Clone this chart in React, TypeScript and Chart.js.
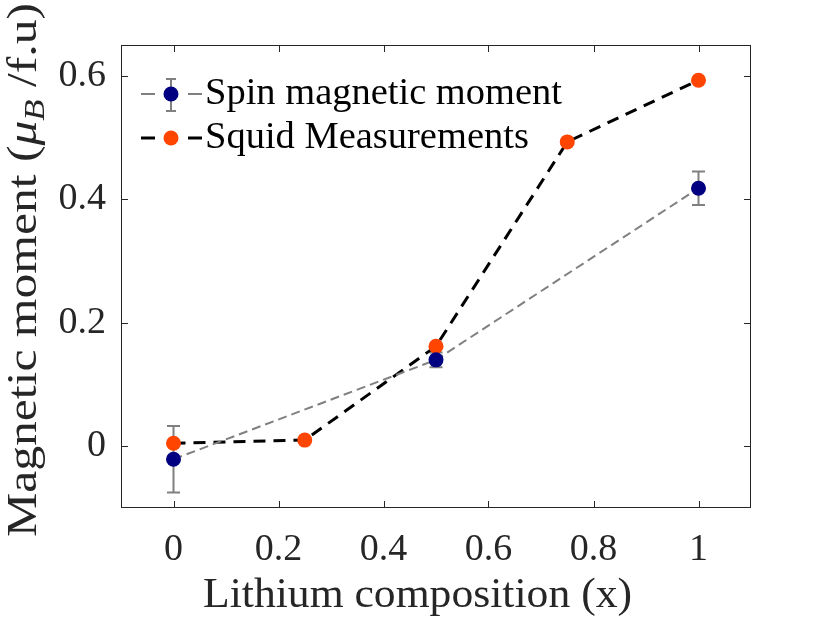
import React, { useEffect, useRef } from "react";
import { Chart, registerables } from "chart.js";

Chart.register(...registerables);

const spinX = [0, 0.5, 1];
const spinY = [-0.021, 0.14, 0.418];
const spinErr = [0.054, 0.012, 0.027];

const squidX = [0, 0.25, 0.5, 0.75, 1];
const squidY = [0.005, 0.01, 0.162, 0.493, 0.593];

const xTicks = [0, 0.2, 0.4, 0.6, 0.8, 1];
const xTickLabels = ["0", "0.2", "0.4", "0.6", "0.8", "1"];
const yTicks = [0, 0.2, 0.4, 0.6];
const yTickLabels = ["0", "0.2", "0.4", "0.6"];

const legendLabels = ["Spin magnetic moment", "Squid Measurements"];
const xTitle = "Lithium composition (x)";

const FONT = "'Liberation Serif', 'Times New Roman', serif";
const AXIS_COLOR = "#262626";
const NAVY = "#000080";
const ORANGE = "#ff4500";
const GRAY = "#808080";

function drawStretched(ctx: any, text: string, x: number, y: number, targetW: number) {
  const w = ctx.measureText(text).width;
  const s = targetW / w;
  ctx.save();
  ctx.translate(x, y);
  ctx.scale(s, 1);
  ctx.textAlign = "left";
  ctx.fillText(text, 0, 0);
  ctx.restore();
}

const overlayPlugin = {
  id: "overlay",
  beforeDatasetsDraw(chart: any) {
    const ctx = chart.ctx;
    const xs = chart.scales.x;
    const ys = chart.scales.y;
    ctx.save();
    ctx.strokeStyle = GRAY;
    ctx.lineWidth = 2;
    spinX.forEach((xv, i) => {
      const px = xs.getPixelForValue(xv);
      const top = ys.getPixelForValue(spinY[i] + spinErr[i]);
      const bot = ys.getPixelForValue(spinY[i] - spinErr[i]);
      ctx.beginPath();
      ctx.moveTo(px, top);
      ctx.lineTo(px, bot);
      ctx.moveTo(px - 6.5, top);
      ctx.lineTo(px + 6.5, top);
      ctx.moveTo(px - 6.5, bot);
      ctx.lineTo(px + 6.5, bot);
      ctx.stroke();
    });
    ctx.restore();
  },
  afterDraw(chart: any) {
    const ctx = chart.ctx;
    const a = chart.chartArea;
    const xs = chart.scales.x;
    const ys = chart.scales.y;
    ctx.save();
    // frame
    ctx.strokeStyle = AXIS_COLOR;
    ctx.lineWidth = 1;
    ctx.strokeRect(a.left + 0.5, a.top + 0.5, a.right - a.left - 1, a.bottom - a.top - 1);
    const tl = 7;
    ctx.beginPath();
    xTicks.forEach((v) => {
      const px = Math.round(xs.getPixelForValue(v)) + 0.5;
      ctx.moveTo(px, a.bottom);
      ctx.lineTo(px, a.bottom - tl);
      ctx.moveTo(px, a.top);
      ctx.lineTo(px, a.top + tl);
    });
    yTicks.forEach((v) => {
      const py = Math.round(ys.getPixelForValue(v)) + 0.5;
      ctx.moveTo(a.left, py);
      ctx.lineTo(a.left + tl, py);
      ctx.moveTo(a.right, py);
      ctx.lineTo(a.right - tl, py);
    });
    ctx.stroke();

    // x title
    ctx.fillStyle = AXIS_COLOR;
    ctx.font = `43px ${FONT}`;
    ctx.textBaseline = "alphabetic";
    drawStretched(ctx, xTitle, 203, 607, 429);

    // y title (rotated) with mu_B
    ctx.save();
    ctx.translate(36, 537);
    ctx.rotate(-Math.PI / 2);
    const segs = [
      { t: "Magnetic moment (", f: `43px ${FONT}`, dy: 0 },
      { t: "\u03bc", f: `italic 43px ${FONT}`, dy: 0 },
      { t: "B", f: `italic 30px ${FONT}`, dy: 8 },
      { t: " /f.u)", f: `43px ${FONT}`, dy: 0 },
    ];
    let total = 0;
    segs.forEach((s) => {
      ctx.font = s.f;
      total += ctx.measureText(s.t).width;
    });
    const sc = 534 / total;
    ctx.scale(sc, 1);
    let cx = 0;
    ctx.textAlign = "left";
    segs.forEach((s) => {
      ctx.font = s.f;
      ctx.fillText(s.t, cx, s.dy);
      cx += ctx.measureText(s.t).width;
    });
    ctx.restore();

    // legend
    const rows = [
      { y: 94, color: GRAY, lw: 2, marker: NAVY, err: true },
      { y: 138, color: "#000000", lw: 3, marker: ORANGE, err: false },
    ];
    ctx.font = `37px ${FONT}`;
    const legScale = 357 / ctx.measureText(legendLabels[0]).width;
    rows.forEach((r, i) => {
      ctx.save();
      ctx.strokeStyle = r.color;
      ctx.lineWidth = r.lw;
      ctx.setLineDash([14, 33]);
      ctx.beginPath();
      ctx.moveTo(141, r.y);
      ctx.lineTo(202, r.y);
      ctx.stroke();
      ctx.setLineDash([]);
      if (r.err) {
        ctx.strokeStyle = GRAY;
        ctx.lineWidth = 2;
        ctx.beginPath();
        ctx.moveTo(171, r.y - 15);
        ctx.lineTo(171, r.y + 17);
        ctx.moveTo(166, r.y - 15);
        ctx.lineTo(176, r.y - 15);
        ctx.moveTo(166, r.y + 17);
        ctx.lineTo(176, r.y + 17);
        ctx.stroke();
      }
      ctx.fillStyle = r.marker;
      ctx.beginPath();
      ctx.arc(171, r.y, 7.5, 0, Math.PI * 2);
      ctx.fill();
      ctx.restore();
      ctx.fillStyle = "#000000";
      ctx.font = `37px ${FONT}`;
      ctx.textBaseline = "alphabetic";
      const w = ctx.measureText(legendLabels[i]).width;
      drawStretched(ctx, legendLabels[i], 205, r.y + 10, w * legScale);
    });
    ctx.restore();
  },
};

export default function App() {
  const ref = useRef<HTMLCanvasElement>(null);
  useEffect(() => {
    document.body.style.margin = "0";
    const canvas = ref.current!;
    const chart = new Chart(canvas, {
      type: "line",
      data: {
        datasets: [
          {
            label: legendLabels[0],
            data: spinX.map((x, i) => ({ x, y: spinY[i] })),
            borderColor: GRAY,
            borderWidth: 2,
            borderDash: [9, 5],
            backgroundColor: NAVY,
            pointBackgroundColor: NAVY,
            pointBorderWidth: 0,
            pointRadius: 7.5,
            order: 0,
          },
          {
            label: legendLabels[1],
            data: squidX.map((x, i) => ({ x, y: squidY[i] })),
            borderColor: "#000000",
            borderWidth: 3,
            borderDash: [12, 8],
            backgroundColor: ORANGE,
            pointBackgroundColor: ORANGE,
            pointBorderWidth: 0,
            pointRadius: 7.5,
            order: 1,
          },
        ],
      },
      options: {
        responsive: false,
        animation: false,
        layout: { padding: { left: 0, right: 79, top: 45, bottom: 0 } },
        plugins: { legend: { display: false }, tooltip: { enabled: false } },
        scales: {
          x: {
            type: "linear",
            min: -0.1,
            max: 1.1,
            grid: { display: false, drawTicks: false },
            border: { display: false },
            afterFit: (s: any) => {
              s.height = 115;
            },
            afterBuildTicks: (s: any) => {
              s.ticks = xTicks.map((v) => ({ value: v }));
            },
            ticks: {
              padding: 19,
              color: AXIS_COLOR,
              font: { family: FONT, size: 38 },
              maxRotation: 0,
              autoSkip: false,
              callback: (v: any) => {
                const i = xTicks.findIndex((t) => Math.abs(t - v) < 1e-9);
                return i >= 0 ? xTickLabels[i] : "";
              },
            },
          },
          y: {
            type: "linear",
            min: -0.1,
            max: 0.65,
            grid: { display: false, drawTicks: false },
            border: { display: false },
            afterFit: (s: any) => {
              s.width = 121;
            },
            afterBuildTicks: (s: any) => {
              s.ticks = yTicks.map((v) => ({ value: v }));
            },
            ticks: {
              padding: 15,
              color: AXIS_COLOR,
              font: { family: FONT, size: 38 },
              autoSkip: false,
              callback: (v: any) => {
                const i = yTicks.findIndex((t) => Math.abs(t - v) < 1e-9);
                return i >= 0 ? yTickLabels[i] : "";
              },
            },
          },
        },
      },
      plugins: [overlayPlugin],
    });
    return () => chart.destroy();
  }, []);
  return (
    <div style={{ width: 830, height: 623, background: "#ffffff" }}>
      <canvas ref={ref} width={830} height={623} />
    </div>
  );
}
